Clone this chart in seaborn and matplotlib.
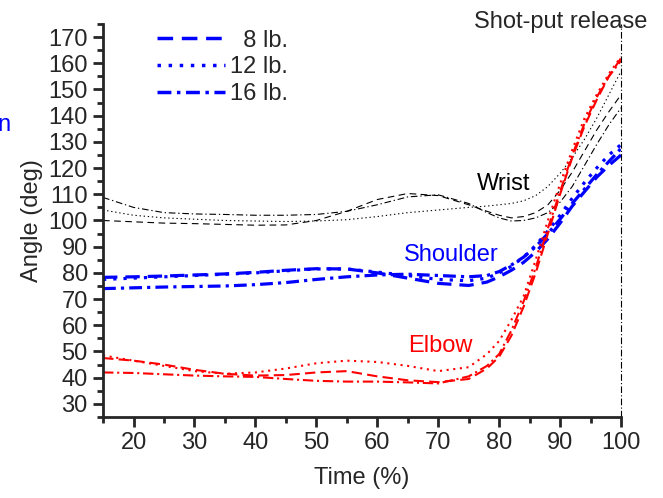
import matplotlib
matplotlib.use("Agg")
import matplotlib.pyplot as plt
from matplotlib.ticker import MultipleLocator
from matplotlib.lines import Line2D
import pandas as pd
import seaborn as sns

# ---- data ----
time_pct = [15, 20, 25, 30, 35, 40, 45, 50, 55, 60, 65, 70, 75, 78, 80, 82, 84, 86, 88, 90, 92, 94, 96, 98, 100]

wrist_8 = [100, 99.5, 99, 98.8, 98.5, 98.2, 98.3, 100, 103.5, 108, 110.3, 109.5, 106, 103.5, 102, 101, 101.5, 103, 106, 111.5, 118.5, 126.5, 134.5, 141.5, 148]
wrist_12 = [104, 102, 101, 100.5, 100, 99.8, 99.6, 99.8, 100.3, 101.5, 103, 104, 105, 105.5, 106, 106.5, 107.5, 109.5, 113, 118, 124, 131, 139, 148, 157]
wrist_16 = [108.8, 105, 103, 102.5, 102.3, 102, 102, 102.3, 103.5, 106, 109, 109.8, 106.5, 103, 101, 99.8, 100, 101, 103, 107, 113, 121, 129, 136.5, 143]

shoulder_8 = [78.3, 78.5, 78.8, 79.2, 79.6, 80.2, 81, 81.6, 81.5, 80, 78, 76, 75.2, 76.5, 78.5, 81, 84, 88, 93, 99, 105.5, 111, 116.5, 121, 125]
shoulder_12 = [77.5, 78, 78.5, 79, 79.5, 80, 80.8, 81.5, 81.5, 80.3, 79, 77.5, 77, 78, 80, 82.5, 86, 90.5, 96, 102, 108.5, 114.5, 120, 125, 129]
shoulder_16 = [74, 74.3, 74.6, 74.8, 75, 75.5, 76.3, 77.5, 78.5, 79.2, 79.5, 79, 78.5, 79, 80.5, 83, 86, 90, 95, 100.5, 106.5, 112, 117.5, 122.5, 127.5]

elbow_8 = [47.5, 46.5, 45, 43, 41.5, 40.8, 41, 42, 42.5, 40.5, 39, 38.3, 39.5, 43.5, 48, 56, 67, 80, 95, 110, 124, 136, 146, 155, 162]
elbow_12 = [48.5, 46.5, 44.5, 42.5, 41.5, 42, 43.5, 45.5, 46.5, 46, 44.5, 42.5, 44, 49, 54, 62, 71, 85, 100, 114, 127, 139, 148, 156, 162.5]
elbow_16 = [42, 41.8, 41.3, 40.8, 40.5, 40.3, 39.5, 38.8, 38.5, 38.5, 38.2, 37.8, 40.5, 44.5, 49, 58, 69, 82, 97, 111, 125, 137, 147, 155, 161]

weights = ["8 lb.", "12 lb.", "16 lb."]
x_ticks = [20, 30, 40, 50, 60, 70, 80, 90, 100]
y_ticks = [30, 40, 50, 60, 70, 80, 90, 100, 110, 120, 130, 140, 150, 160, 170]

# ---- style ----
sns.set_style("ticks")
plt.rcParams["font.family"] = ["Liberation Sans", "DejaVu Sans"]
FS = 17

fig = plt.figure(figsize=(6.63, 4.98), dpi=100)
ax = fig.add_axes([0.1554, 0.1627, 0.7813, 0.7891])

dash_black = {"8 lb.": (0, (6, 4)), "12 lb.": (0, (1.2, 2.5)), "16 lb.": (0, (6, 2.5, 1.2, 2.5))}
dash_red = {"8 lb.": (0, (5, 2.5)), "12 lb.": (0, (1, 2.2)), "16 lb.": (0, (5, 1.8, 1, 1.8))}
dash_blue = {"8 lb.": (0, (4.5, 2.5)), "12 lb.": (0, (1, 2.2)), "16 lb.": (0, (4, 1.6, 1, 1.6))}

groups = [
    ("Wrist", [wrist_8, wrist_12, wrist_16], "black", 0.8, dash_black),
    ("Shoulder", [shoulder_8, shoulder_12, shoulder_16], "#0000ff", 2.3, dash_blue),
    ("Elbow", [elbow_8, elbow_12, elbow_16], "#ff0000", 1.5, dash_red),
]

for joint, series, color, lw, dmap in groups:
    for w, vals in zip(weights, series):
        df = pd.DataFrame({"time": time_pct, "angle": vals})
        sns.lineplot(data=df, x="time", y="angle", ax=ax, color=color,
                     linewidth=lw, linestyle=dmap[w], estimator=None, sort=False)

ax.set_xlim(15, 100)
ax.set_ylim(25, 175)
ax.set_xticks(x_ticks)
ax.set_yticks(y_ticks)
ax.xaxis.set_minor_locator(MultipleLocator(5))
ax.yaxis.set_minor_locator(MultipleLocator(5))
ax.tick_params(which="major", direction="out", length=7, width=2, labelsize=FS, pad=4)
ax.tick_params(which="minor", direction="out", length=4, width=2)
for s in ["top", "right"]:
    ax.spines[s].set_visible(False)
for s in ["left", "bottom"]:
    ax.spines[s].set_linewidth(2)

ax.set_xlabel("Time (%)", fontsize=FS, labelpad=9)
ax.set_ylabel("Angle (deg)", fontsize=FS, labelpad=4)

ax.axvline(100, color="black", linewidth=0.8, linestyle=(0, (6, 2, 1, 2)), clip_on=False)

ax.text(80.7, 114, "Wrist", fontsize=FS, color="black", ha="center", va="center")
ax.text(72.2, 86.7, "Shoulder", fontsize=FS, color="#0000ff", ha="center", va="center")
ax.text(70.4, 52, "Elbow", fontsize=FS, color="#ff0000", ha="center", va="center")
fig.text(0.846, 0.956, "Shot-put release", fontsize=FS, ha="center", va="center")
fig.text(-0.004, 0.749, "n", fontsize=FS, color="#0000ff", ha="left", va="center")

handles = [Line2D([], [], color="#0000ff", linewidth=2.5, linestyle=dash_blue[w]) for w in weights]
labels = ["  8 lb.", "12 lb.", "16 lb."]
ax.legend(handles, labels, loc="upper left", bbox_to_anchor=(0.085, 1.01), frameon=False,
          fontsize=FS, handlelength=2.9, handletextpad=0.2, labelspacing=0.2, borderaxespad=0)

fig.savefig("out.png", dpi=100)
